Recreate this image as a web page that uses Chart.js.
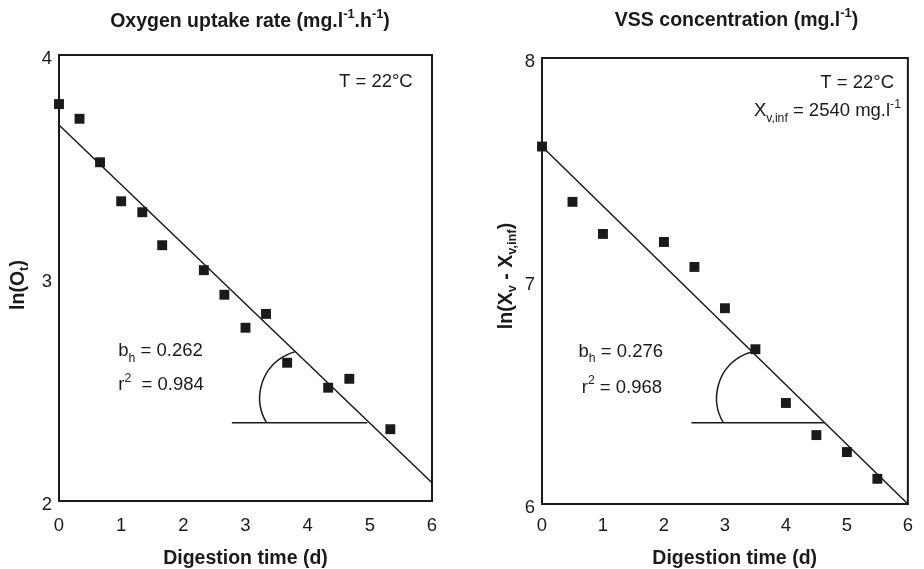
<!DOCTYPE html>
<html>
<head>
<meta charset="utf-8">
<script src="https://cdn.jsdelivr.net/npm/chart.js@4/dist/chart.umd.min.js"></script>
<style>
  body { margin: 0; background: #fff; }
  .panel { position: absolute; top: 0; width: 462px; height: 569px; }
</style>
</head>
<body>
<div class="panel" style="left:0"><canvas id="o2Chart" width="462" height="569"></canvas></div>
<div class="panel" style="left:462px"><canvas id="vssChart" width="462" height="569"></canvas></div>
<script>
// --- data ---
// left panel: ln(oxygen uptake rate) vs digestion time
const o2Days = [0, 0.33, 0.66, 1.0, 1.34, 1.66, 2.33, 2.66, 3.0, 3.33, 3.67, 4.33, 4.67, 5.33];
const o2Ln   = [3.78, 3.714, 3.519, 3.344, 3.295, 3.147, 3.035, 2.925, 2.777, 2.839, 2.62, 2.508, 2.548, 2.322];
const o2FitX = [0, 6];
const o2FitY = [3.686, 2.082];
const o2RefX = [2.78, 4.96];   // horizontal base line of the angle mark
const o2RefY = [2.351, 2.351];

// right panel: ln(Xv - Xv,inf) vs digestion time
const vssDays = [0, 0.5, 1, 2, 2.5, 3, 3.5, 4, 4.5, 5, 5.5];
const vssLn   = [7.603, 7.355, 7.211, 7.175, 7.063, 6.878, 6.694, 6.453, 6.309, 6.233, 6.113];
const vssFitX = [0, 6];
const vssFitY = [7.603, 6.0];
const vssRefX = [2.45, 4.63];
const vssRefY = [6.364, 6.364];

const xTicks = [0, 1, 2, 3, 4, 5, 6];

const FONT = "'Liberation Sans', Arial, Helvetica, sans-serif";
const INK = '#1a1a1a';

function pts(xs, ys) {
    return xs.map((x, i) => ({ x: x, y: ys[i] }));
}

// draws text made of pieces: [text, ''|'sub'|'sup']
function drawRich(ctx, parts, x, y, size, bold, align, rotate) {
    const w = bold ? 'bold ' : '';
    let total = 0;
    parts.forEach(p => {
        const s = p[1] ? size * 0.66 : size;
        ctx.font = w + s + 'px ' + FONT;
        total += ctx.measureText(p[0]).width;
    });
    ctx.save();
    ctx.translate(x, y);
    if (rotate) ctx.rotate(-Math.PI / 2);
    ctx.fillStyle = INK;
    ctx.textAlign = 'left';
    ctx.textBaseline = rotate ? 'middle' : 'alphabetic';
    let cx = align === 'right' ? -total : (align === 'center' ? -total / 2 : 0);
    parts.forEach(p => {
        let s = size, dy = 0;
        if (p[1] === 'sub') { s = size * 0.66; dy = size * 0.3; }
        if (p[1] === 'sup') { s = size * 0.66; dy = -size * 0.45; }
        ctx.font = w + s + 'px ' + FONT;
        ctx.fillText(p[0], cx, dy);
        cx += ctx.measureText(p[0]).width;
    });
    ctx.restore();
}

const extrasPlugin = {
    id: 'extras',
    afterDatasetsDraw(chart, args, opts) {
        const ctx = chart.ctx;
        const a = chart.chartArea;
        const xs = chart.scales.x, ys = chart.scales.y;
        // frame
        ctx.save();
        ctx.strokeStyle = INK;
        ctx.lineWidth = 2;
        ctx.strokeRect(a.left, a.top, a.right - a.left, a.bottom - a.top);
        // angle arc
        const arc = opts.arc;
        ctx.lineWidth = 1.5;
        ctx.beginPath();
        ctx.arc(xs.getPixelForValue(arc.x), ys.getPixelForValue(arc.y), arc.r,
            arc.from * Math.PI / 180, arc.to * Math.PI / 180);
        ctx.stroke();
        ctx.restore();
        // texts in data coordinates
        opts.notes.forEach(n => {
            drawRich(ctx, n.parts, xs.getPixelForValue(n.x), ys.getPixelForValue(n.y), 18.5, false, n.align, false);
        });
        // titles in pixels
        opts.labels.forEach(l => {
            drawRich(ctx, l.parts, l.px, l.py, 19.5, true, 'center', l.rotate);
        });
    }
};

function makeChart(id, days, lnv, fitX, fitY, refX, refY, yMin, yMax, area, extras) {
    const ctx = document.getElementById(id).getContext('2d');
    return new Chart(ctx, {
        type: 'scatter',
        data: {
            datasets: [{
                data: pts(days, lnv),
                pointStyle: 'rect',
                pointRadius: 7,
                pointHoverRadius: 7,
                backgroundColor: INK,
                borderColor: INK,
                borderWidth: 0,
                clip: false
            }, {
                data: pts(fitX, fitY),
                showLine: true,
                borderColor: INK,
                borderWidth: 1.5,
                pointRadius: 0,
                clip: false
            }, {
                data: pts(refX, refY),
                showLine: true,
                borderColor: INK,
                borderWidth: 1.5,
                pointRadius: 0,
                clip: false
            }]
        },
        options: {
            responsive: false,
            animation: false,
            devicePixelRatio: 1,
            layout: { padding: { top: area.top, right: area.right, left: 0, bottom: 0 } },
            plugins: {
                legend: { display: false },
                tooltip: { enabled: false },
                extras: extras
            },
            scales: {
                x: {
                    type: 'linear',
                    min: 0,
                    max: 6,
                    afterBuildTicks: s => { s.ticks = xTicks.map(v => ({ value: v })); },
                    afterFit: s => { s.height = area.xh; },
                    grid: { display: false, drawTicks: false },
                    border: { display: false },
                    ticks: { padding: area.xpad, color: INK, font: { family: FONT, size: 18.5 } }
                },
                y: {
                    type: 'linear',
                    min: yMin,
                    max: yMax,
                    afterFit: s => { s.width = area.left; },
                    grid: { display: false, drawTicks: false },
                    border: { display: false },
                    ticks: { stepSize: 1, padding: 7, labelOffset: 4, color: INK, font: { family: FONT, size: 18.5 } }
                }
            }
        },
        plugins: [extrasPlugin]
    });
}

makeChart('o2Chart', o2Days, o2Ln, o2FitX, o2FitY, o2RefX, o2RefY, 2, 4,
    { top: 55, right: 30, left: 59, xh: 68, xpad: 14 },
    {
        arc: { x: 4.0, y: 2.462, r: 48, from: 149, to: 255 },
        notes: [
            { x: 5.69, y: 3.858, align: 'right', parts: [['T = 22°C', '']] },
            { x: 0.954, y: 2.648, align: 'left', parts: [['b', ''], ['h', 'sub'], [' = 0.262', '']] },
            { x: 0.954, y: 2.498, align: 'left', parts: [['r', ''], ['2', 'sup'], ['  = 0.984', '']] }
        ],
        labels: [
            { px: 250, py: 27, parts: [['Oxygen uptake rate (mg.l', ''], ['-1', 'sup'], ['.h', ''], ['-1', 'sup'], [')', '']] },
            { px: 245.5, py: 564, parts: [['Digestion time (d)', '']] },
            { px: 19, py: 285, rotate: true, parts: [['ln(O', ''], ['t', 'sub'], [')', '']] }
        ]
    });

makeChart('vssChart', vssDays, vssLn, vssFitX, vssFitY, vssRefX, vssRefY, 6, 8,
    { top: 58, right: 9, left: 80, xh: 65, xpad: 11 },
    {
        arc: { x: 3.65, y: 6.475, r: 48, from: 149, to: 255 },
        notes: [
            { x: 5.774, y: 7.865, align: 'right', parts: [['T = 22°C', '']] },
            { x: 5.887, y: 7.738, align: 'right', parts: [['X', ''], ['v,inf', 'sub'], [' = 2540 mg.l', ''], ['-1', 'sup']] },
            { x: 0.6, y: 6.661, align: 'left', parts: [['b', ''], ['h', 'sub'], [' = 0.276', '']] },
            { x: 0.652, y: 6.5, align: 'left', parts: [['r', ''], ['2', 'sup'], [' = 0.968', '']] }
        ],
        labels: [
            { px: 274.5, py: 25.5, parts: [['VSS concentration (mg.l', ''], ['-1', 'sup'], [')', '']] },
            { px: 272.7, py: 564, parts: [['Digestion time (d)', '']] },
            { px: 45, py: 276, rotate: true, parts: [['ln(X', ''], ['v', 'sub'], [' - X', ''], ['v,inf', 'sub'], [')', '']] }
        ]
    });
</script>
</body>
</html>
